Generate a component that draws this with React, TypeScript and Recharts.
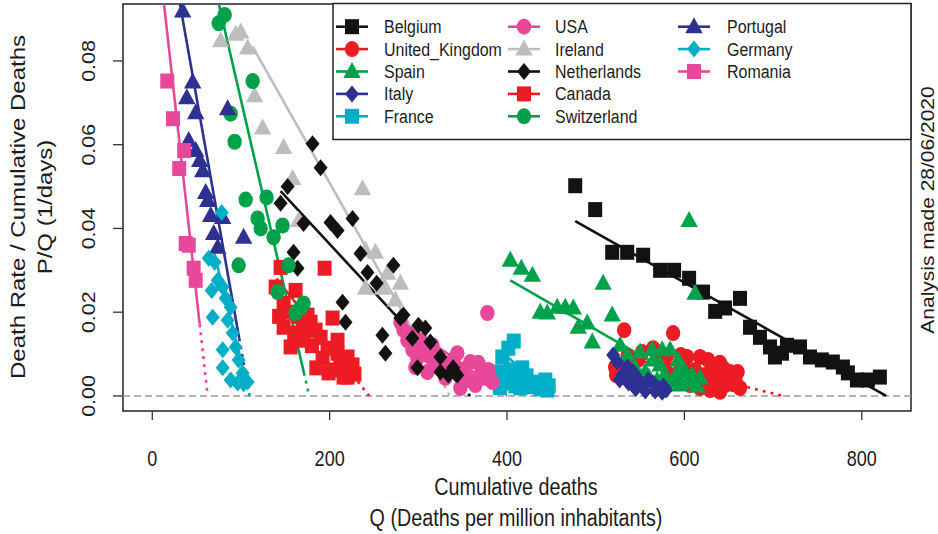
import React from "react";
import {
  ComposedChart,
  Line,
  ReferenceArea,
  ReferenceLine,
  Scatter,
  XAxis,
  YAxis,
} from "recharts";

type Pt = [number, number];

// Q (deaths per million) , P/Q (1/days)
const BELGIUM: Pt[] = [
  [476.9, 0.0502], [499.4, 0.0445], [518.6, 0.0343], [535.5, 0.0343], [553.5, 0.0336],
  [572.6, 0.03], [588.4, 0.03], [605.3, 0.0281], [621, 0.0248], [634.7, 0.0202],
  [645.8, 0.021], [662.7, 0.0233], [674, 0.0164], [685.2, 0.014], [696.5, 0.0117],
  [702.1, 0.0093], [710, 0.0102], [715.7, 0.0121], [730.3, 0.0117], [741.6, 0.0093],
  [755, 0.0086], [767.4, 0.0081], [778.7, 0.0069], [784.3, 0.0055], [794.5, 0.0038],
  [806.9, 0.0038], [820.4, 0.0045],
];
const UK: Pt[] = [
  [532.1, 0.0157], [587.3, 0.015], [564.8, 0.0114], [552.4, 0.0105], [603, 0.0093],
  [617.7, 0.0093], [631.2, 0.0069], [643.6, 0.0067], [523, 0.005], [521.9, 0.0069],
  [614.3, 0.0038], [623.3, 0.005], [634.7, 0.0038], [646, 0.0026], [657.3, 0.0038],
  [651.7, 0.0057], [629, 0.0014], [640.2, 0.001], [617.7, 0.0019], [606.4, 0.0026],
  [662.7, 0.0019], [660, 0.0057], [594, 0.0057], [577.7, 0.0074], [626.7, 0.0086],
  [542.2, 0.0074], [600, 0.0062], [612, 0.0062], [637, 0.0052], [648, 0.0045],
  [655, 0.0028], [580, 0.0095], [570, 0.0088], [596, 0.0098], [640, 0.0079],
  [585, 0.0045], [625, 0.003], [536, 0.0095], [548, 0.0086],
];
const SPAIN: Pt[] = [
  [403.7, 0.0324], [416.1, 0.0305], [428.6, 0.0288], [437.5, 0.02], [445.4, 0.0198],
  [456.6, 0.0212], [465.7, 0.0212], [474.7, 0.021], [480.3, 0.0164], [490.4, 0.0174],
  [496.1, 0.0129], [508.4, 0.0269], [518.6, 0.0193], [605.3, 0.0419], [612.1, 0.0245],
  [527.6, 0.0121], [535.5, 0.0098], [550, 0.0105], [563.6, 0.011], [574.9, 0.011],
  [583.9, 0.011], [592.9, 0.0086], [600.8, 0.0057], [608.6, 0.005], [617.7, 0.0043],
  [555.7, 0.0057], [569.3, 0.0038], [544.5, 0.0067], [586.1, 0.0033], [595.2, 0.0026],
  [614.3, 0.0024], [572.6, 0.0074], [560, 0.0045], [578, 0.0052], [590, 0.0048],
  [604, 0.0033], [565, 0.0086], [597, 0.0069],
];
const ITALY: Pt[] = [
  [519.7, 0.0098], [524.2, 0.0081], [529.8, 0.005], [535.5, 0.0069], [542.2, 0.0057],
  [546.7, 0.0043], [553.5, 0.0024], [559.1, 0.0038], [564.8, 0.0031], [570.4, 0.0019],
  [576.1, 0.0024], [579.4, 0.0014], [541.1, 0.0029], [550, 0.0033], [527, 0.0038],
  [537, 0.0031], [545, 0.0017], [556, 0.0012], [567, 0.0012], [575, 0.0009],
];
const FRANCE: Pt[] = [
  [407.6, 0.0131], [401.5, 0.0114], [394.7, 0.0093], [417.2, 0.0067], [396.9, 0.0043],
  [409.4, 0.0024], [420.7, 0.0026], [428.6, 0.0033], [443.2, 0.0038], [437.5, 0.0017],
  [445.4, 0.0014], [403.7, 0.0062], [412.8, 0.0043], [390.2, 0.0057], [392, 0.002],
  [400, 0.0031], [430, 0.0022], [422, 0.0048], [415, 0.0019], [447, 0.0024],
];
const USA: Pt[] = [
  [377.8, 0.0198], [279.8, 0.0176], [283.2, 0.0157], [287.7, 0.0133], [293.3, 0.011],
  [299, 0.009], [296.7, 0.0069], [310.2, 0.0057], [321.5, 0.0093], [330.5, 0.0043],
  [344, 0.0102], [350.8, 0.0045], [358.7, 0.0081], [367.7, 0.0079], [364.3, 0.0026],
  [379, 0.0062], [383.5, 0.0033], [375.6, 0.0043], [347.4, 0.0019], [315.9, 0.0121],
  [302.4, 0.0133], [305, 0.0105], [318, 0.0072], [327, 0.0079], [336, 0.0067],
  [340, 0.0088], [352, 0.0064], [357, 0.0038], [371, 0.0055], [290, 0.0148], [312, 0.0095],
];
const IRELAND: Pt[] = [
  [77.1, 0.0848], [94, 0.0864], [99.7, 0.0869], [107.5, 0.0831], [115.4, 0.0717],
  [124.4, 0.064], [148.1, 0.0593], [158.2, 0.0519], [165, 0.0419], [237, 0.0495],
  [240.4, 0.0348], [251.7, 0.0343], [265.2, 0.0293], [279.8, 0.0269], [240.4, 0.0257],
  [259.5, 0.0257], [274, 0.0229],
];
const NETHERLANDS: Pt[] = [
  [152.6, 0.05], [144.7, 0.046], [180.7, 0.0602], [189.8, 0.0545], [170.6, 0.0412],
  [201, 0.0414], [208.9, 0.0395], [225.8, 0.0424], [159.3, 0.0343], [163.8, 0.0305],
  [234.8, 0.034], [242.7, 0.0295], [271.9, 0.0312], [253, 0.0269], [214.5, 0.0224],
  [217.9, 0.0176], [279.8, 0.0186], [283.2, 0.0193], [300.1, 0.0169], [307.9, 0.0162],
  [259.5, 0.0145], [293.3, 0.0138], [313.6, 0.0129], [262.9, 0.0102], [324.9, 0.0093],
  [299, 0.0067], [324.9, 0.0057], [333.9, 0.005], [343.9, 0.005], [339.3, 0.0067],
];
const CANADA: Pt[] = [
  [194.3, 0.0305], [144.7, 0.0307], [139.1, 0.026], [148.1, 0.0221], [152.6, 0.02],
  [148.1, 0.0164], [175.1, 0.0193], [184.1, 0.0157], [203.3, 0.0186], [156, 0.0117],
  [170.6, 0.0133], [189.8, 0.014], [197.6, 0.0114], [208.9, 0.0102], [220.2, 0.0093],
  [225.8, 0.0074], [198.8, 0.0055], [220.2, 0.0045], [161.6, 0.0252], [169.5, 0.0164],
  [178.5, 0.0176], [208.9, 0.0133], [215.7, 0.0045], [206.6, 0.0062], [160, 0.015],
  [165, 0.019], [180, 0.012], [192, 0.009], [212, 0.0078], [228, 0.0052], [185, 0.0067],
  [143, 0.019],
];
const SWITZERLAND: Pt[] = [
  [81.6, 0.091], [74.9, 0.089], [113.2, 0.0752], [88.4, 0.0674], [92.9, 0.0607],
  [105.3, 0.0469], [128.9, 0.0474], [118.8, 0.0424], [122.2, 0.04], [146.9, 0.0407],
  [136.8, 0.0379], [97.4, 0.0312], [153.7, 0.0312], [141.3, 0.0248], [170.6, 0.0221],
  [161.6, 0.0198], [167.2, 0.021],
];
const PORTUGAL: Pt[] = [
  [34.3, 0.0919], [45.6, 0.075], [38.9, 0.0712], [49, 0.0676], [85, 0.0686],
  [41.1, 0.061], [49, 0.0586], [53.5, 0.0562], [56.9, 0.0538], [60.2, 0.0486],
  [62.5, 0.0467], [65.9, 0.0431], [79.4, 0.0426], [69.3, 0.0388], [73.8, 0.0355],
  [103, 0.0379],
];
const GERMANY: Pt[] = [
  [78.3, 0.0438], [63.6, 0.0329], [70.4, 0.0319], [73.8, 0.0276], [67, 0.0252],
  [79.4, 0.026], [82.8, 0.0233], [68.1, 0.0188], [88.4, 0.0212], [85, 0.0181],
  [90.7, 0.015], [79.4, 0.011], [94, 0.0117], [97.4, 0.0086], [79.4, 0.0067],
  [88.4, 0.0038], [101.9, 0.0055], [107.5, 0.0033], [96.3, 0.0031], [103, 0.0029],
];
const ROMANIA: Pt[] = [
  [16.9, 0.0752], [23.4, 0.0662], [36, 0.0586], [30.4, 0.0543], [37.7, 0.0364],
  [41.1, 0.036], [46.7, 0.0305], [49, 0.0276],
];

// fitted lines: [start, end of solid part, Q where P/Q hits zero, slope]
const BELGIUM_FIT = [476.9, 827.5, 827.5, 0.000119];
const UK_FIT = [540, 662, 711, 0.0000525];
const SPAIN_FIT = [403.7, 617, 630, 0.000122];
const ITALY_FIT = [519, 578, 582, 0.000145];
const FRANCE_FIT = [395, 445, 452, 0.00018];
const USA_FIT = [280, 384, 400, 0.00015];
const IRELAND_FIT = [113.2, 298, 335.6, 0.000375];
const NETHERLANDS_FIT = [144.7, 344, 358.4, 0.000229];
const CANADA_FIT = [140, 226, 244.6, 0.000268];
const SWITZERLAND_FIT = [68, 171, 177, 0.000918];
const PORTUGAL_FIT = [25, 98, 109.5, 0.001196];
const GERMANY_FIT = [70, 107, 110, 0.00085];
const ROMANIA_FIT = [8, 53.5, 62.5, 0.0019];

const X_TICKS = [0, 200, 400, 600, 800];
const Y_TICKS = [0, 0.02, 0.04, 0.06, 0.08];
const X_DOMAIN: [number, number] = [-33, 855.5];
const Y_DOMAIN: [number, number] = [-0.0036, 0.0936];

const BLACK = "#141111";
const RED = "#ED1C24";
const GREEN = "#00A14B";
const NAVY = "#2E3192";
const CYAN = "#00AEC8";
const PINK = "#E8489A";
const GREY = "#BDBDBD";

const COUNTRIES = [
  { name: "Belgium", color: BLACK, shape: "square", pts: BELGIUM, fit: BELGIUM_FIT },
  { name: "United_Kingdom", color: RED, shape: "circle", pts: UK, fit: UK_FIT },
  { name: "Spain", color: GREEN, shape: "triangle", pts: SPAIN, fit: SPAIN_FIT },
  { name: "Italy", color: NAVY, shape: "diamond", pts: ITALY, fit: ITALY_FIT },
  { name: "France", color: CYAN, shape: "square", pts: FRANCE, fit: FRANCE_FIT },
  { name: "USA", color: PINK, shape: "circle", pts: USA, fit: USA_FIT },
  { name: "Ireland", color: GREY, shape: "triangle", pts: IRELAND, fit: IRELAND_FIT },
  { name: "Netherlands", color: BLACK, shape: "diamond", pts: NETHERLANDS, fit: NETHERLANDS_FIT },
  { name: "Canada", color: RED, shape: "square", pts: CANADA, fit: CANADA_FIT },
  { name: "Switzerland", color: GREEN, shape: "circle", pts: SWITZERLAND, fit: SWITZERLAND_FIT },
  { name: "Portugal", color: NAVY, shape: "triangle", pts: PORTUGAL, fit: PORTUGAL_FIT },
  { name: "Germany", color: CYAN, shape: "diamond", pts: GERMANY, fit: GERMANY_FIT },
  { name: "Romania", color: PINK, shape: "square", pts: ROMANIA, fit: ROMANIA_FIT },
];

const FONT = "'Liberation Sans', Arial, Helvetica, sans-serif";
const TXT = "#1c1c1c";
const SQUEEZE = 0.84;

function Marker({ shape, cx, cy, fill }: any) {
  if (cx == null || cy == null) return null;
  if (shape === "square") return <rect x={cx - 7} y={cy - 7.5} width={14} height={15} fill={fill} />;
  if (shape === "circle") return <ellipse cx={cx} cy={cy} rx={7.2} ry={8} fill={fill} />;
  if (shape === "triangle")
    return <polygon points={`${cx},${cy - 9.5} ${cx + 8.7},${cy + 6.5} ${cx - 8.7},${cy + 6.5}`} fill={fill} />;
  return <polygon points={`${cx},${cy - 8.5} ${cx + 7},${cy} ${cx},${cy + 8.5} ${cx - 7},${cy}`} fill={fill} />;
}

function HText({ x, y, size, anchor = "middle", children }: any) {
  return (
    <text
      transform={`translate(${x},${y}) scale(${SQUEEZE},1)`}
      textAnchor={anchor}
      dominantBaseline="central"
      fontSize={size}
      fontFamily={FONT}
      fill={TXT}
    >
      {children}
    </text>
  );
}

function VText({ x, y, size, children }: any) {
  return (
    <text
      transform={`translate(${x},${y}) scale(${SQUEEZE},1) rotate(-90)`}
      textAnchor="middle"
      dominantBaseline="central"
      fontSize={size}
      fontFamily={FONT}
      fill={TXT}
    >
      {children}
    </text>
  );
}

function XTick({ x, payload }: any) {
  return <HText x={x} y={458} size={21.5}>{String(payload.value)}</HText>;
}

function YTick({ y, payload }: any) {
  return <VText x={89} y={y} size={21.5}>{Number(payload.value).toFixed(2)}</VText>;
}

const fitY = (f: number[], x: number) => f[3] * (f[2] - x);

function Overlay() {
  const rows = 5;
  const colLine = [336, 508, 678];
  const colText = [384, 555, 727];
  return (
    <svg width={938} height={534} style={{ position: "absolute", left: 0, top: 0, pointerEvents: "none" }}>
      <VText x={18} y={207} size={24}>Death Rate / Cumulative Deaths</VText>
      <VText x={45} y={207} size={24}>P/Q (1/days)</VText>
      <HText x={516} y={487} size={23.5}>Cumulative deaths</HText>
      <HText x={516} y={518} size={23.5}>Q (Deaths per million inhabitants)</HText>
      <VText x={928} y={210} size={21}>Analysis made 28/06/2020</VText>
      <rect x={333} y={3.5} width={578} height={136} fill="#fff" stroke="#222" strokeWidth={1.5} />
      {COUNTRIES.map((c, i) => {
        const col = Math.floor(i / rows);
        const cy = 26.7 + (i % rows) * 22.4;
        const lx = colLine[col];
        return (
          <g key={c.name}>
            <line x1={lx} x2={lx + 32} y1={cy} y2={cy} stroke={c.color} strokeWidth={2.6} />
            <Marker shape={c.shape} cx={lx + 16} cy={cy} fill={c.color} />
            <HText x={colText[col]} y={cy} size={19} anchor="start">{c.name}</HText>
          </g>
        );
      })}
    </svg>
  );
}

export default function App() {
  return (
    <div style={{ position: "absolute", left: 0, top: 0, width: 938, height: 534, background: "#fff" }}>
      <ComposedChart width={938} height={534} margin={{ top: 4, right: 27, bottom: 0, left: 0 }}>
        <XAxis
          type="number"
          dataKey="x"
          domain={X_DOMAIN}
          ticks={X_TICKS}
          interval={0}
          allowDataOverflow
          axisLine={false}
          tickSize={9}
          tickLine={{ stroke: "#333", strokeWidth: 1.3 }}
          tick={<XTick />}
          height={123}
        />
        <YAxis
          type="number"
          dataKey="y"
          domain={Y_DOMAIN}
          ticks={Y_TICKS}
          interval={0}
          allowDataOverflow
          axisLine={false}
          tickSize={10}
          tickLine={{ stroke: "#333", strokeWidth: 1.3 }}
          tick={<YTick />}
          width={123}
        />
        <ReferenceLine y={0} stroke="#9a9a9a" strokeWidth={1.5} strokeDasharray="7 4" />
        {COUNTRIES.map((c) => {
          const f = c.fit;
          const solid = [
            { x: f[0], y: fitY(f, f[0]) },
            { x: f[1], y: fitY(f, f[1]) },
          ];
          const dotted = [
            { x: f[1], y: fitY(f, f[1]) },
            { x: f[2], y: 0 },
          ];
          return (
            <React.Fragment key={c.name}>
              <Scatter
                name={c.name}
                data={c.pts.map(([x, y]) => ({ x, y }))}
                fill={c.color}
                isAnimationActive={false}
                shape={(p: any) => <Marker shape={c.shape} cx={p.cx} cy={p.cy} fill={c.color} />}
              />
              <Line
                data={solid}
                dataKey="y"
                type="linear"
                stroke={c.color}
                strokeWidth={2.6}
                dot={false}
                activeDot={false}
                isAnimationActive={false}
              />
              {f[1] < f[2] && (
                <Line
                  data={dotted}
                  dataKey="y"
                  type="linear"
                  stroke={c.color}
                  strokeWidth={2.6}
                  strokeDasharray="3 5"
                  dot={false}
                  activeDot={false}
                  isAnimationActive={false}
                />
              )}
            </React.Fragment>
          );
        })}
        <ReferenceArea
          x1={X_DOMAIN[0]}
          x2={X_DOMAIN[1]}
          y1={Y_DOMAIN[0]}
          y2={Y_DOMAIN[1]}
          fill="none"
          fillOpacity={0}
          stroke="#222"
          strokeWidth={1.5}
          ifOverflow="visible"
        />
      </ComposedChart>
      <Overlay />
    </div>
  );
}
